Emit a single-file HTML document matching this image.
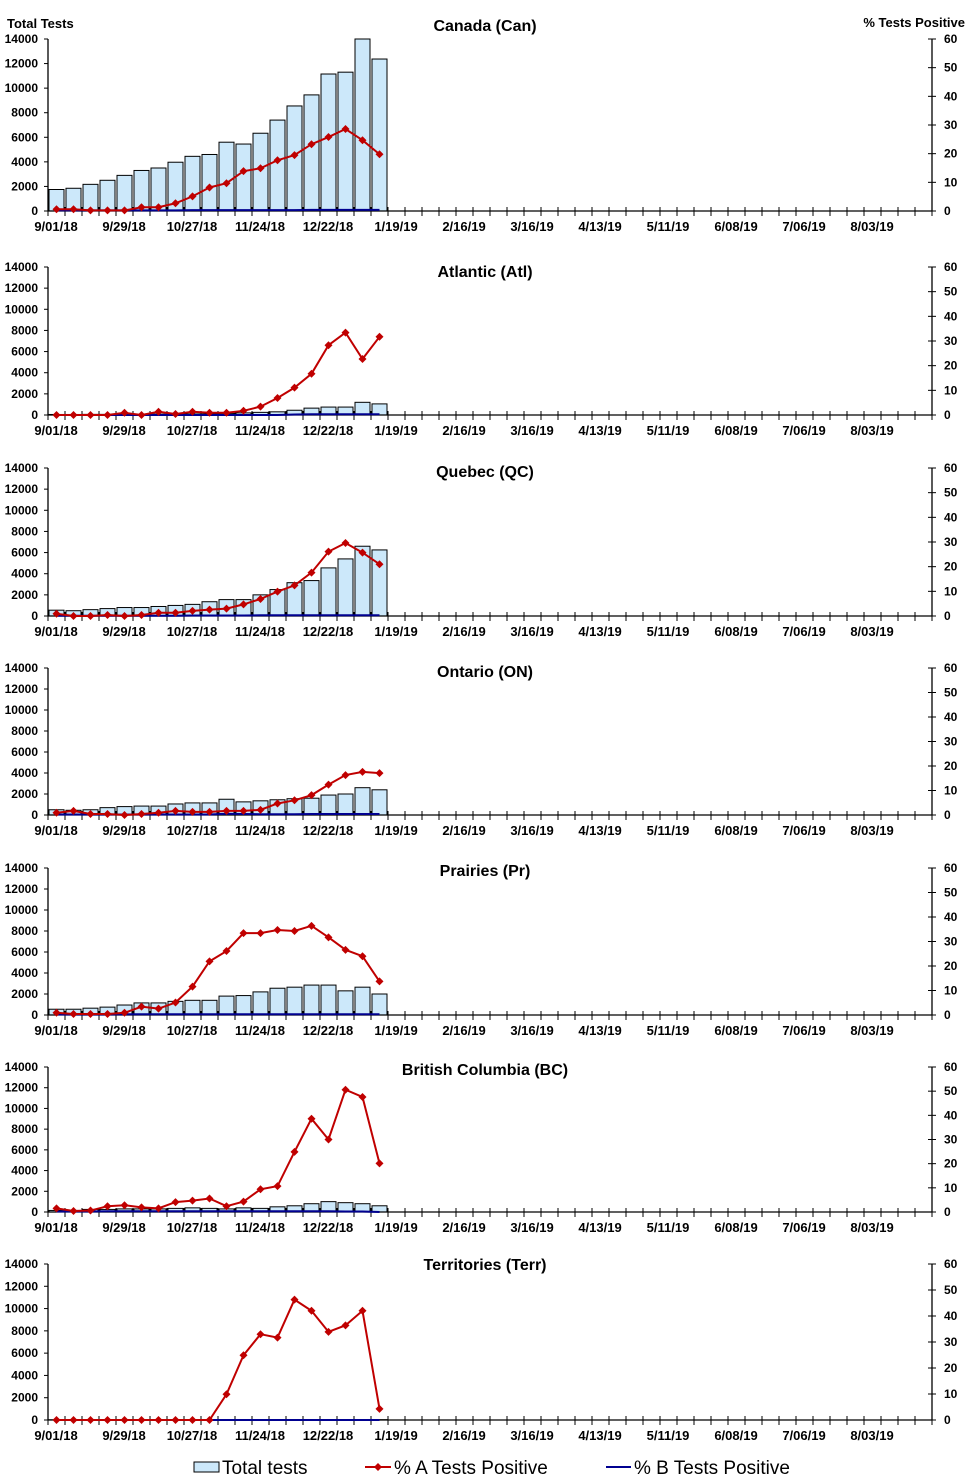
<!DOCTYPE html>
<html><head><meta charset="utf-8"><style>
html,body{margin:0;padding:0;background:#fff;}
svg{display:block;font-family:"Liberation Sans",Arial,sans-serif;}
</style></head><body>
<svg id="chart" width="970" height="1482" viewBox="0 0 970 1482" xmlns="http://www.w3.org/2000/svg">
<text x="7" y="28" font-size="13" font-weight="bold">Total Tests</text>
<text x="965" y="27" font-size="13" font-weight="bold" text-anchor="end">% Tests Positive</text>
<g>
<rect x="194" y="1462" width="25" height="10" fill="#cce8fa" stroke="#000"/>
<text x="222" y="1474" font-size="19">Total tests</text>
<line x1="365" y1="1467" x2="391" y2="1467" stroke="#c00000" stroke-width="2"/>
<path d="M378 1463 L382 1467 L378 1471 L374 1467Z" fill="#c00000"/>
<text x="394" y="1474" font-size="19">% A Tests Positive</text>
<line x1="606" y1="1467" x2="631" y2="1467" stroke="#000090" stroke-width="2"/>
<text x="634" y="1474" font-size="19">% B Tests Positive</text>
</g>
</svg>
<script>
const regionNames = ["Canada (Can)","Atlantic (Atl)","Quebec (QC)","Ontario (ON)","Prairies (Pr)","British Columbia (BC)","Territories (Terr)"];
const weekLabels = ["9/01/18","9/29/18","10/27/18","11/24/18","12/22/18","1/19/19","2/16/19","3/16/19","4/13/19","5/11/19","6/08/19","7/06/19","8/03/19"];
const leftTicks = [0,2000,4000,6000,8000,10000,12000,14000];
const rightTicks = [0,10,20,30,40,50,60];
const testsCan = [1750,1850,2170,2500,2900,3300,3500,3970,4450,4600,5600,5450,6330,7400,8550,9450,11150,11300,14000,12370];
const testsAtl = [50,50,60,60,60,60,80,80,100,100,150,200,250,300,450,650,750,750,1200,1050];
const testsQC = [550,500,600,700,800,800,900,1000,1100,1350,1550,1550,2000,2500,3150,3350,4550,5400,6600,6250];
const testsON = [500,450,500,700,800,850,850,1050,1150,1150,1500,1250,1350,1450,1550,1600,1900,2000,2600,2400];
const testsPr = [550,550,650,750,950,1150,1150,1300,1400,1400,1800,1850,2200,2550,2650,2850,2850,2300,2650,2000];
const testsBC = [150,150,250,250,300,300,300,350,400,350,300,400,350,500,600,800,1000,900,800,600];
const testsTerr = [20,20,20,20,20,20,20,20,20,20,30,30,30,30,30,30,30,30,30,30];
const posACan = [0.6,0.6,0.2,0.2,0.2,1.3,1.3,2.7,5.1,8.2,9.7,13.9,14.9,17.7,19.5,23.3,25.8,28.6,24.7,19.8];
const posAAtl = [0,0,0,0,0.9,0,1.3,0.4,1.3,0.9,0.9,1.7,3.4,6.9,11.1,16.7,28.3,33.4,22.7,31.7];
const posAQC = [0.9,0,0,0.4,0,0.4,1.3,1.3,2.1,2.6,3,4.7,6.9,9.9,12.4,17.6,26.1,29.6,25.7,21];
const posAON = [0.9,1.7,0.4,0.4,0,0.4,0.9,1.7,1.3,1.3,1.7,1.7,2.1,4.7,6,8.1,12.4,16.3,17.6,17.1];
const posAPr = [0.9,0.4,0.4,0.4,0.9,3.4,2.6,5.1,11.6,21.9,26.1,33.4,33.4,34.7,34.3,36.4,31.7,26.6,24,13.7];
const posABC = [1.5,0.4,0.6,2.4,2.8,1.9,1.5,4.1,4.7,5.6,2.4,4.3,9.4,10.7,24.9,38.6,30,50.6,47.6,20.1];
const posATerr = [0,0,0,0,0,0,0,0,0,0,9.9,24.9,33,31.7,46.3,42,33.9,36.4,42,4.3];
const posBCan = [0.2,0.2,0.2,0.2,0.2,0.2,0.2,0.2,0.3,0.3,0.3,0.3,0.3,0.3,0.3,0.4,0.4,0.4,0.4,0.4];
const posBAtl = [0,0,0,0,0,0,0,0,0,0,0,0,0,0,0.2,0.3,0.3,0.3,0.3,0.3];
const posBQC = [0.1,0.1,0.1,0.1,0.1,0.1,0.1,0.1,0.2,0.2,0.2,0.2,0.3,0.3,0.3,0.3,0.3,0.3,0.3,0.3];
const posBON = [0.2,0.2,0.2,0.2,0.2,0.2,0.2,0.2,0.2,0.2,0.5,0.4,0.3,0.3,0.3,0.4,0.4,0.4,0.4,0.4];
const posBPr = [0.2,0.2,0.2,0.2,0.3,0.3,0.3,0.3,0.3,0.3,0.3,0.3,0.3,0.3,0.3,0.3,0.3,0.3,0.3,0.3];
const posBBC = [0.2,0.2,0.2,0.3,0.3,0.3,0.3,0.3,0.3,0.3,0.3,0.3,0.3,0.3,0.3,0.3,0.3,0.2,0.2,0];
const posBTerr = [0,0,0,0,0,0,0,0,0,0,0,0,0,0,0,0,0,0,0,0];

const allTests=[testsCan,testsAtl,testsQC,testsON,testsPr,testsBC,testsTerr];
const allA=[posACan,posAAtl,posAQC,posAON,posAPr,posABC,posATerr];
const allB=[posBCan,posBAtl,posBQC,posBON,posBPr,posBBC,posBTerr];
const panelTop=[39,267,468,668,868,1067,1264];
const panelBot=[211,415,616,815,1015,1212,1420];
const titleY=[31,277,477,677,876,1075,1270];
const X0=48, WK=17, NW=52, X1=X0+NW*WK;
const svg=document.getElementById('chart');
const NS='http://www.w3.org/2000/svg';
function mk(tag,attrs,parent){const e=document.createElementNS(NS,tag);for(const k in attrs)e.setAttribute(k,attrs[k]);parent.appendChild(e);return e;}
function xOf(i){return X0+i*WK;}
regionNames.forEach((name,p)=>{
  const top=panelTop[p], bot=panelBot[p], h=bot-top;
  const yL=v=>bot-v/14000*h, yR=v=>bot-v/60*h;
  const g=mk('g',{},svg);
  
  
  const t=mk('text',{x:485,y:titleY[p],'font-size':16,'font-weight':'bold','text-anchor':'middle'},g);
  t.textContent=name;
  
  
  allTests[p].forEach((v,i)=>{
    const r=mk('rect',{x:xOf(i)+1,y:yL(v),width:WK-2,height:bot-yL(v),fill:'#cce8fa',stroke:'#000','stroke-width':1},g);
    
    
  });
  const ax=mk('path',{d:`M${X0} ${top}V${bot}H${X1}V${top}`,fill:'none',stroke:'#000','stroke-width':1.3},g);
  
  
  leftTicks.forEach(v=>{
    mk('line',{x1:X0-4,x2:X0,y1:yL(v),y2:yL(v),stroke:'#000'},g);
    const l=mk('text',{x:38,y:yL(v)+4,'font-size':12,'font-weight':'bold','text-anchor':'end'},g);
    l.textContent=v;
    
    
  });
  rightTicks.forEach(v=>{
    mk('line',{x1:X1-4,x2:X1+4,y1:yR(v),y2:yR(v),stroke:'#000'},g);
    const l=mk('text',{x:944,y:yR(v)+4,'font-size':12,'font-weight':'bold'},g);
    l.textContent=v;
    
    
  });
  for(let i=0;i<=NW;i++) mk('line',{x1:xOf(i),x2:xOf(i),y1:bot-4,y2:bot+5,stroke:'#000'},g);
  weekLabels.forEach((s,k)=>{
    const l=mk('text',{x:xOf(k*4)+8,y:bot+20,'font-size':13,'font-weight':'bold','text-anchor':'middle'},g);
    l.textContent=s;
    
    
  });
  const bl=mk('polyline',{points:allB[p].map((v,i)=>`${xOf(i)+WK/2},${yR(v)}`).join(' '),fill:'none',stroke:'#000090','stroke-width':2},g);
  
  
  const al=mk('polyline',{points:allA[p].map((v,i)=>`${xOf(i)+WK/2},${yR(v)}`).join(' '),fill:'none',stroke:'#c00000','stroke-width':2},g);
  
  
  allA[p].forEach((v,i)=>{
    const cx=xOf(i)+WK/2, cy=yR(v);
    const d=mk('path',{d:`M${cx} ${cy-4}L${cx+4} ${cy}L${cx} ${cy+4}L${cx-4} ${cy}Z`,fill:'#c00000'},g);
    
    
  });
});
</script>
</body></html>
